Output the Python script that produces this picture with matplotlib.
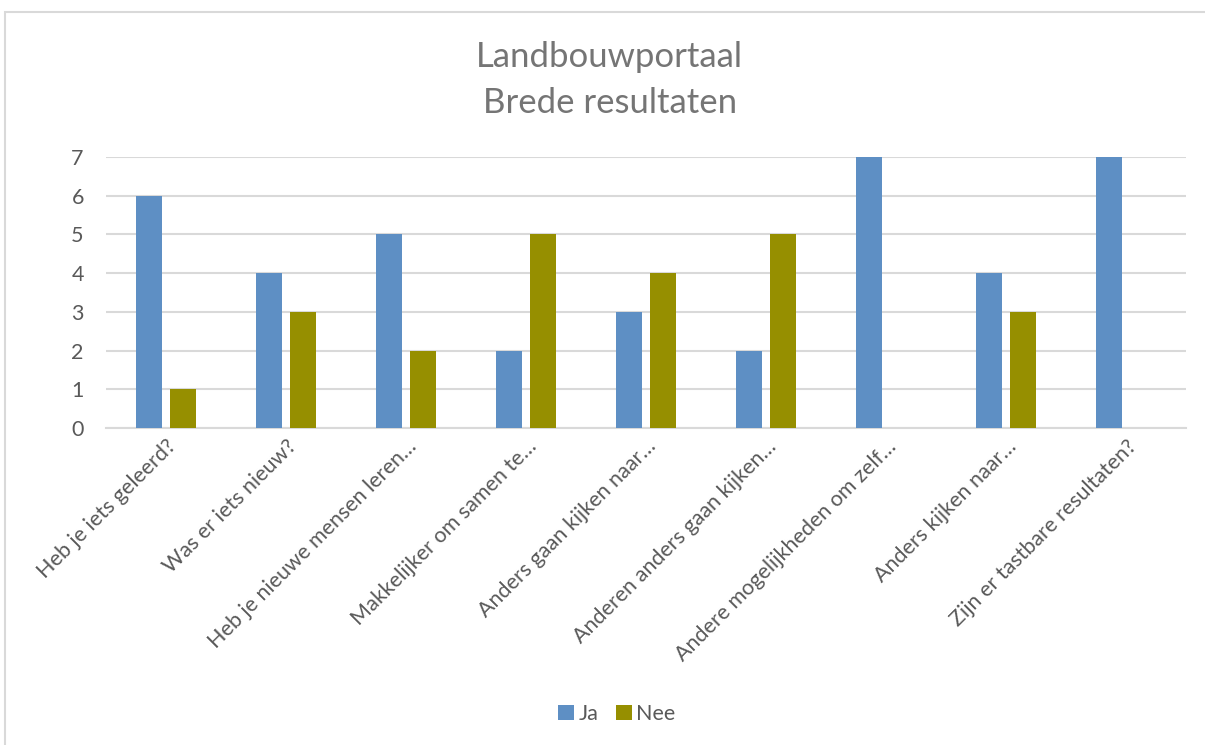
import matplotlib.pyplot as plt
import numpy as np
from matplotlib.patches import Rectangle

# data
vragen = ["Heb je iets geleerd?", "Was er iets nieuw?", "Heb je nieuwe mensen leren…",
          "Makkelijker om samen te…", "Anders gaan kijken naar…", "Anderen anders gaan kijken…",
          "Andere mogelijkheden om zelf…", "Anders kijken naar…", "Zijn er tastbare resultaten?"]
ja = [6, 4, 5, 2, 3, 2, 7, 4, 7]
nee = [1, 3, 2, 5, 4, 5, 0, 3, 0]
yticks = [0, 1, 2, 3, 4, 5, 6, 7]

blauw = '#5E8FC4'
olijf = '#968F00'
grijs = '#595959'

plt.rcParams['font.family'] = ['Lato', 'DejaVu Sans']

fig = plt.figure(figsize=(12.05, 7.45), dpi=100)
# kader rond de grafiek (alleen links en boven zichtbaar)
fig.add_artist(Rectangle((5 / 1205, -0.1), 1.2, 1 - 12 / 745 + 0.1, transform=fig.transFigure,
                         fill=False, edgecolor='#D9D9D9', linewidth=1.5))

ax = fig.add_axes([106 / 1205, 1 - 428 / 745, 1080 / 1205, 271 / 745])
x = np.arange(len(vragen))
b = 0.217
ax.bar(x - 0.142, ja, width=b, color=blauw, label='Ja', zorder=3)
ax.bar(x + 0.142, nee, width=b, color=olijf, label='Nee', zorder=3)

ax.set_xlim(-0.5, len(vragen) - 0.5)
ax.set_ylim(0, 7)
ax.set_yticks(yticks)
ax.yaxis.grid(True, color='#D9D9D9', linewidth=1.5, zorder=0)
ax.tick_params(axis='y', length=0, pad=16, labelsize=15.5, labelcolor=grijs)
ax.tick_params(axis='x', length=0, pad=6)
ax.set_xticks(x)
ax.set_xticklabels(vragen, rotation=45, ha='right', va='top', rotation_mode='anchor',
                   fontsize=15.5, color=grijs)
for s in ['top', 'right', 'left']:
    ax.spines[s].set_visible(False)
ax.spines['bottom'].set_color('#D9D9D9')
ax.spines['bottom'].set_linewidth(1.5)

fig.text(0.506, 1 - 57 / 745, 'Landbouwportaal', ha='center', va='center', fontsize=25, color='#757575')
fig.text(0.506, 1 - 103 / 745, 'Brede resultaten', ha='center', va='center', fontsize=25, color='#757575')

fig.legend(loc='center', bbox_to_anchor=(0.512, 1 - 714 / 745), ncol=2, frameon=False,
           fontsize=15.5, labelcolor=grijs, handlelength=0.75, handleheight=0.75,
           handletextpad=0.2, columnspacing=0.8)

plt.savefig('out.png', dpi=100)
